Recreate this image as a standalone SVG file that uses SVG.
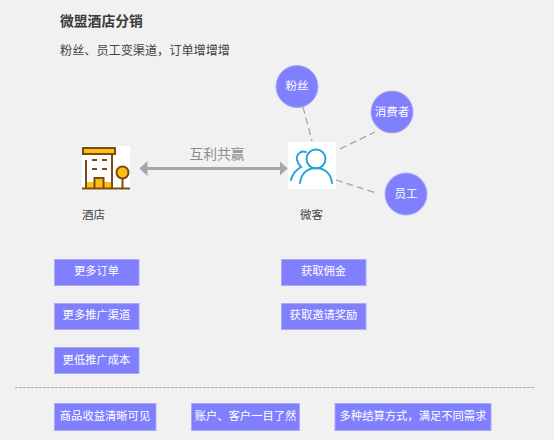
<svg xmlns="http://www.w3.org/2000/svg" width="554" height="440" viewBox="0 0 554 440">
<style>
text{font-family:"Noto Sans CJK SC","Liberation Sans",sans-serif}
.b{fill:#8080ff;stroke:#a9a9fb;stroke-width:1}
.c{fill:#8080ff;stroke:#a9a9fb;stroke-width:1}
.w{fill:#fff;font-size:11.300px;text-anchor:middle}
.o{font-size:11.500px}
.d{fill:#444;font-size:11.500px}
.k{fill:none;stroke:#a6a6a6;stroke-width:1.300;stroke-dasharray:7 4}
.br{stroke:#7b4a12;stroke-width:2;fill:none}
.bl{stroke:#29a3dc;stroke-width:2;fill:none;stroke-linecap:round}
</style>
<defs>
<marker id="ah" markerWidth="8" markerHeight="15" refX="7.500" refY="7.500" orient="auto" markerUnits="userSpaceOnUse"><path d="M0 0L8 7.500L0 15Z" fill="#a6a6a6"/></marker>
<marker id="at" markerWidth="8" markerHeight="15" refX="0.500" refY="7.500" orient="auto" markerUnits="userSpaceOnUse"><path d="M8 0L0 7.500L8 15Z" fill="#a6a6a6"/></marker>
</defs>
<rect width="554" height="440" fill="#f1f1f1"/>
<text x="60" y="26" font-size="13.800" font-weight="700" fill="#3a3a3a">微盟酒店分销</text>
<text x="60" y="55" font-size="12.150" fill="#444">粉丝、员工变渠道，订单增增增</text>
<g id="connectors">
<line x1="140" y1="168.500" x2="287" y2="168.500" stroke="#a6a6a6" stroke-width="3" marker-start="url(#at)" marker-end="url(#ah)"/>
<line class="k" x1="303" y1="107" x2="312" y2="141"/>
<line class="k" x1="340" y1="149" x2="375" y2="132"/>
<line class="k" x1="336" y1="180" x2="376" y2="193"/>
<text x="217" y="159" font-size="13.800" fill="#8c8c8c" text-anchor="middle">互利共赢</text>
</g>
<g id="hotel">
<rect x="82" y="146" width="48" height="44" fill="#fff"/>
<rect x="87" y="182" width="24" height="6" fill="#fdc010"/>
<rect x="95" y="179" width="8" height="9" fill="#fdc010"/>
<rect x="83" y="148" width="32" height="6" fill="#fdc010" stroke="#7b4a12" stroke-width="2"/>
<path class="br" d="M86 160V188M112 155V188M82 188.500H130M94.500 188V178H103.500V188"/>
<path class="br" d="M92 160h5M102 160h5M92 169h5M102 169h5"/>
<circle cx="122.500" cy="172.500" r="6" fill="#fdc010" stroke="#7b4a12" stroke-width="2"/>
<path class="br" d="M122.500 179V188"/>
<text class="d" x="82" y="219">酒店</text>
</g>
<g id="weike">
<rect x="288" y="142" width="48" height="47" fill="#fff"/>
<circle cx="316" cy="159" r="9.500" class="bl"/>
<path class="bl" d="M300 183C301 173 308 168 316 168C324 168 331 173 332 183"/>
<path class="bl" d="M306 152C300 150 296 155 297 160C298 164 300 166 301 167C296 170 292 175 291 180"/>
<text class="d" x="300" y="219">微客</text>
</g>
<g id="fans"><circle class="c" cx="297" cy="86.500" r="21"/><text class="w o" x="297" y="90">粉丝</text></g>
<g id="consumer"><circle class="c" cx="392" cy="112" r="21"/><text class="w o" x="392" y="116">消费者</text></g>
<g id="staff"><circle class="c" cx="406" cy="194" r="21"/><text class="w o" x="406" y="198">员工</text></g>
<g id="b1"><rect class="b" x="54.500" y="259.500" width="84.500" height="26"/><text class="w" x="96.500" y="275">更多订单</text></g>
<g id="b2"><rect class="b" x="54.500" y="303.500" width="84.500" height="26"/><text class="w" x="96.500" y="319">更多推广渠道</text></g>
<g id="b3"><rect class="b" x="54.500" y="347.500" width="84.500" height="26"/><text class="w" x="96.500" y="364">更低推广成本</text></g>
<g id="b4"><rect class="b" x="281.500" y="259.500" width="84.500" height="26"/><text class="w" x="323.500" y="275">获取佣金</text></g>
<g id="b5"><rect class="b" x="281.500" y="303.500" width="84.500" height="26"/><text class="w" x="323.500" y="319">获取邀请奖励</text></g>
<line x1="15" y1="387.500" x2="534" y2="387.500" stroke="#aaa" stroke-width="1" stroke-dasharray="3 1"/>
<g id="b6"><rect class="b" x="54.500" y="403.500" width="101.500" height="27"/><text class="w" x="105" y="420">商品收益清晰可见</text></g>
<g id="b7"><rect class="b" x="191.500" y="403.500" width="108" height="27"/><text class="w" x="245.500" y="420">账户、客户一目了然</text></g>
<g id="b8"><rect class="b" x="335" y="403.500" width="156" height="27"/><text class="w" x="413" y="420">多种结算方式，满足不同需求</text></g>
</svg>
